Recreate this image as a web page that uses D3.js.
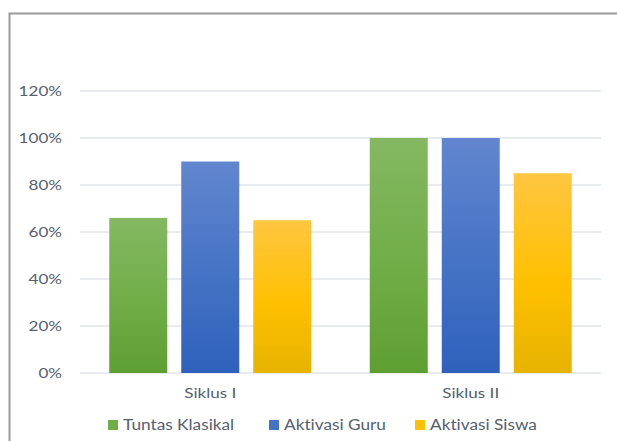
<!DOCTYPE html>
<html><head><meta charset="utf-8">
<script src="https://cdn.jsdelivr.net/npm/d3@7"></script>
<style>body{margin:0;background:#fff}svg{display:block}text{font-variant-ligatures:none;font-feature-settings:"liga" 0}</style>
</head><body><svg id="c" width="617" height="441"></svg>
<script>
const categories = ["Siklus I", "Siklus II"];
const seriesNames = ["Tuntas Klasikal", "Aktivasi Guru", "Aktivasi Siswa"];
const tuntasKlasikal = [0.66, 1.00];
const aktivasiGuru = [0.90, 1.00];
const aktivasiSiswa = [0.65, 0.85];
const yTicks = [0, 0.2, 0.4, 0.6, 0.8, 1.0, 1.2];
const seriesValues = [tuntasKlasikal, aktivasiGuru, aktivasiSiswa];
const colors = [
  ["#84b862", "#70ad47", "#5e9f32"],
  ["#6286cf", "#4472c4", "#2f61bc"],
  ["#ffc641", "#ffc000", "#e6b300"]
];

const svg = d3.select("#c");
const font = "Lato, 'Open Sans', sans-serif";
const textColor = "#55606f";
const sx = 1.22;

svg.append("path").attr("d", "M9.5,441 V13.5 H617").attr("fill", "none")
  .attr("stroke", "#9a9a9a").attr("stroke-width", 2);

const defs = svg.append("defs");
colors.forEach((c, i) => {
  const g = defs.append("linearGradient").attr("id", "g" + i)
    .attr("x1", 0).attr("y1", 0).attr("x2", 0).attr("y2", 1);
  g.append("stop").attr("offset", "0%").attr("stop-color", c[0]);
  g.append("stop").attr("offset", "55%").attr("stop-color", c[1]);
  g.append("stop").attr("offset", "100%").attr("stop-color", c[2]);
});

const x0 = d3.scaleBand().domain(categories).range([80, 601]).paddingInner(0).paddingOuter(0);
const y = d3.scaleLinear().domain([0, 1.2]).range([373, 91]);
const barW = 58, gap = 14;
const x1 = d3.scaleBand().domain(seriesNames).range([0, 3 * barW + 2 * gap]).paddingInner(gap / (barW + gap)).paddingOuter(0);

svg.append("g").selectAll("line").data(yTicks).join("line")
  .attr("x1", 80).attr("x2", 601)
  .attr("y1", d => y(d)).attr("y2", d => y(d))
  .attr("stroke", "#e1e5ea").attr("stroke-width", 1.5);

svg.append("g").selectAll("text").data(yTicks).join("text")
  .attr("transform", d => `translate(62,${y(d)}) scale(${sx},1)`).attr("dy", "0.35em")
  .attr("text-anchor", "end").attr("font-family", font).attr("font-size", 14)
  .attr("fill", textColor).text(d => d3.format(".0%")(d));

const groupW = 3 * barW + 2 * gap;
const gCat = svg.append("g").selectAll("g").data(categories).join("g")
  .attr("transform", d => `translate(${x0(d) + x0.bandwidth() / 2 - groupW / 2},0)`);
gCat.selectAll("rect").data((d, ci) => seriesNames.map((s, si) => ({s, si, v: seriesValues[si][ci]})))
  .join("rect")
  .attr("x", d => x1(d.s)).attr("width", x1.bandwidth())
  .attr("y", d => y(d.v)).attr("height", d => y(0) - y(d.v))
  .attr("fill", d => `url(#g${d.si})`);

svg.append("g").selectAll("text").data(categories).join("text")
  .attr("transform", d => `translate(${x0(d) + x0.bandwidth() / 2},393) scale(${sx},1)`).attr("dy", "0.35em")
  .attr("text-anchor", "middle").attr("font-family", font).attr("font-size", 14)
  .attr("fill", textColor).text(d => d);

const legendX = [108, 269, 415];
const lg = svg.append("g").selectAll("g").data(seriesNames).join("g")
  .attr("transform", (d, i) => `translate(${legendX[i]},425)`);
lg.append("rect").attr("x", 0).attr("y", -5).attr("width", 10).attr("height", 10)
  .attr("fill", (d, i) => colors[i][1]);
lg.append("text").attr("transform", `translate(15,0) scale(1.15,1)`).attr("dy", "0.35em").attr("font-family", font)
  .attr("font-size", 15).attr("fill", textColor).text(d => d);
</script></body></html>
